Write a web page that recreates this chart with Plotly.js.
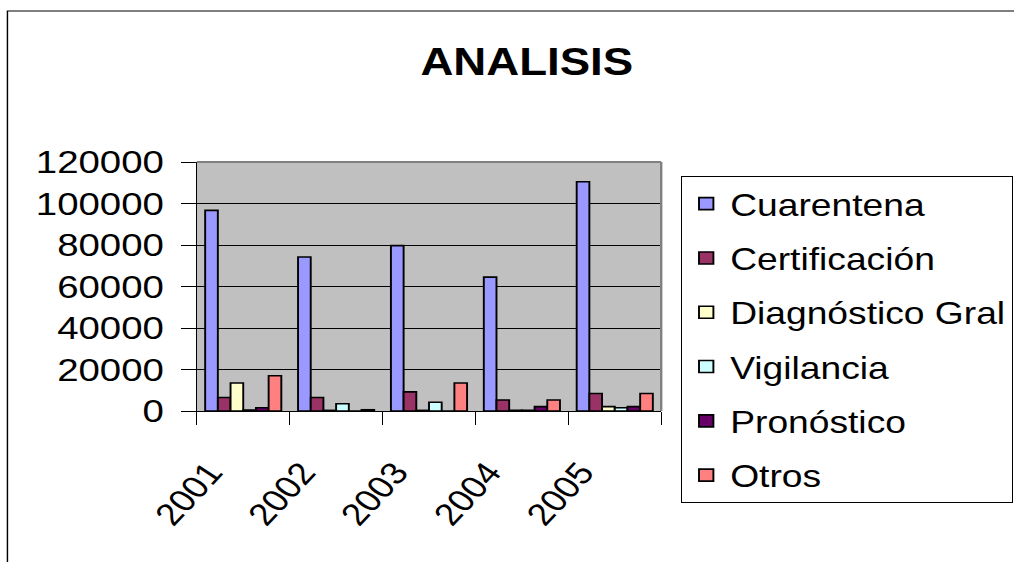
<!DOCTYPE html>
<html>
<head>
<meta charset="utf-8">
<script src="https://cdn.plot.ly/plotly-3.0.1.min.js"></script>
<style>
  html, body { margin: 0; padding: 0; background: #ffffff; overflow: hidden; }
  #wrap { width: 1014px; height: 562px; overflow: hidden; position: relative; }
  #chart { width: 900px; height: 562px; transform: scaleX(1.2); transform-origin: 0 0; }
</style>
</head>
<body>
<div id="wrap"><div id="chart"></div></div>
<script>
// ---- data ----
const years = ['2001', '2002', '2003', '2004', '2005'];
const seriesNames = ['Cuarentena', 'Certificación', 'Diagnóstico Gral', 'Vigilancia', 'Pronóstico', 'Otros'];
const cuarentena    = [96700, 74200, 79700, 64500, 110500];
const certificacion = [6500, 6500, 9200, 5300, 8400];
const diagnostico   = [13500, 300, 300, 300, 2100];
const vigilancia    = [400, 3500, 4200, 300, 1600];
const pronostico    = [1600, 0, 0, 2100, 2100];
const otros         = [17000, 600, 13500, 5300, 8400];
const yTicks = [0, 20000, 40000, 60000, 80000, 100000, 120000];

// ---- styles ----
const colors = ['#9999FF', '#993366', '#FFFFCC', '#CCFFFF', '#660066', '#FF8080'];
const FONT = 'Liberation Sans, Arial, sans-serif';
const allValues = [cuarentena, certificacion, diagnostico, vigilancia, pronostico, otros];

const traces = allValues.map((vals, i) => ({
  type: 'bar',
  name: seriesNames[i],
  x: years,
  y: vals,
  legendgroup: 'g' + i,
  marker: { color: colors[i], line: { color: '#000000', width: 1.6 } },
  hoverinfo: 'x+y+name'
}));

// pixel helpers (unscaled coordinates) for decorative frame shapes
const W = 900, ML = 164, MR = 349, MT = 162, MB = 151, H = 562;
const PW = W - ML - MR, PH = H - MT - MB;
const px = x => (x - ML) / PW;
const py = y => (H - MB - y) / PH;

const layout = {
  width: W, height: H,
  margin: { l: ML, r: MR, t: MT, b: MB, pad: 0, autoexpand: false },
  paper_bgcolor: '#ffffff',
  plot_bgcolor: '#C0C0C0',
  font: { family: FONT, color: '#000000', size: 31 },
  title: {
    text: 'ANALISIS',
    font: { family: FONT, size: 38, weight: 'bold', color: '#000000' },
    xref: 'container', yref: 'container',
    x: 439 / W, xanchor: 'center',
    y: 1 - 62 / H, yanchor: 'middle'
  },
  barmode: 'group',
  bargap: 0.18,
  bargroupgap: 0,
  showlegend: true,
  legend: {
    x: px(567.5), y: py(176), xanchor: 'left', yanchor: 'top',
    bgcolor: '#ffffff', bordercolor: '#000000', borderwidth: 1,
    font: { family: FONT, size: 31, color: '#000000' },
    traceorder: 'grouped', tracegroupgap: 11,
    maxheight: 420,
    itemclick: false, itemdoubleclick: false
  },
  xaxis: {
    type: 'category',
    showgrid: false,
    showline: true, linecolor: '#000000', linewidth: 1,
    ticks: 'outside', tickson: 'boundaries', ticklen: 13, tickwidth: 1, tickcolor: '#000000',
    tickangle: -52,
    tickfont: { family: FONT, size: 31, color: '#000000' },
    ticklabelstandoff: 30,
    ticklabelshift: -28,
    zeroline: false, fixedrange: true
  },
  yaxis: {
    range: [0, 120000],
    tickvals: yTicks,
    tickformat: 'd',
    showgrid: true, gridcolor: '#000000', gridwidth: 1,
    showline: true, linecolor: '#000000', linewidth: 1,
    ticks: 'outside', ticklen: 12, tickwidth: 1, tickcolor: '#000000',
    tickfont: { family: FONT, size: 32, color: '#000000' },
    ticklabelstandoff: 8,
    zeroline: false, fixedrange: true
  },
  shapes: [
    // outer chart frame (extends beyond the visible window on right & bottom)
    { type: 'rect', xref: 'paper', yref: 'paper', x0: px(6.2), x1: px(950), y0: py(11), y1: py(700),
      line: { color: '#000000', width: 1.2 }, fillcolor: 'rgba(0,0,0,0)', layer: 'below' },
    // plot-area border top & right (gray)
    { type: 'line', xref: 'paper', yref: 'paper', x0: 0, x1: 1, y0: 1, y1: 1,
      line: { color: '#808080', width: 2 }, layer: 'above' },
    { type: 'line', xref: 'paper', yref: 'paper', x0: 1, x1: 1, y0: 0, y1: 1,
      line: { color: '#808080', width: 2 }, layer: 'above' }
  ]
};

Plotly.newPlot('chart', traces, layout, { displayModeBar: false, responsive: false });
</script>
</body>
</html>
